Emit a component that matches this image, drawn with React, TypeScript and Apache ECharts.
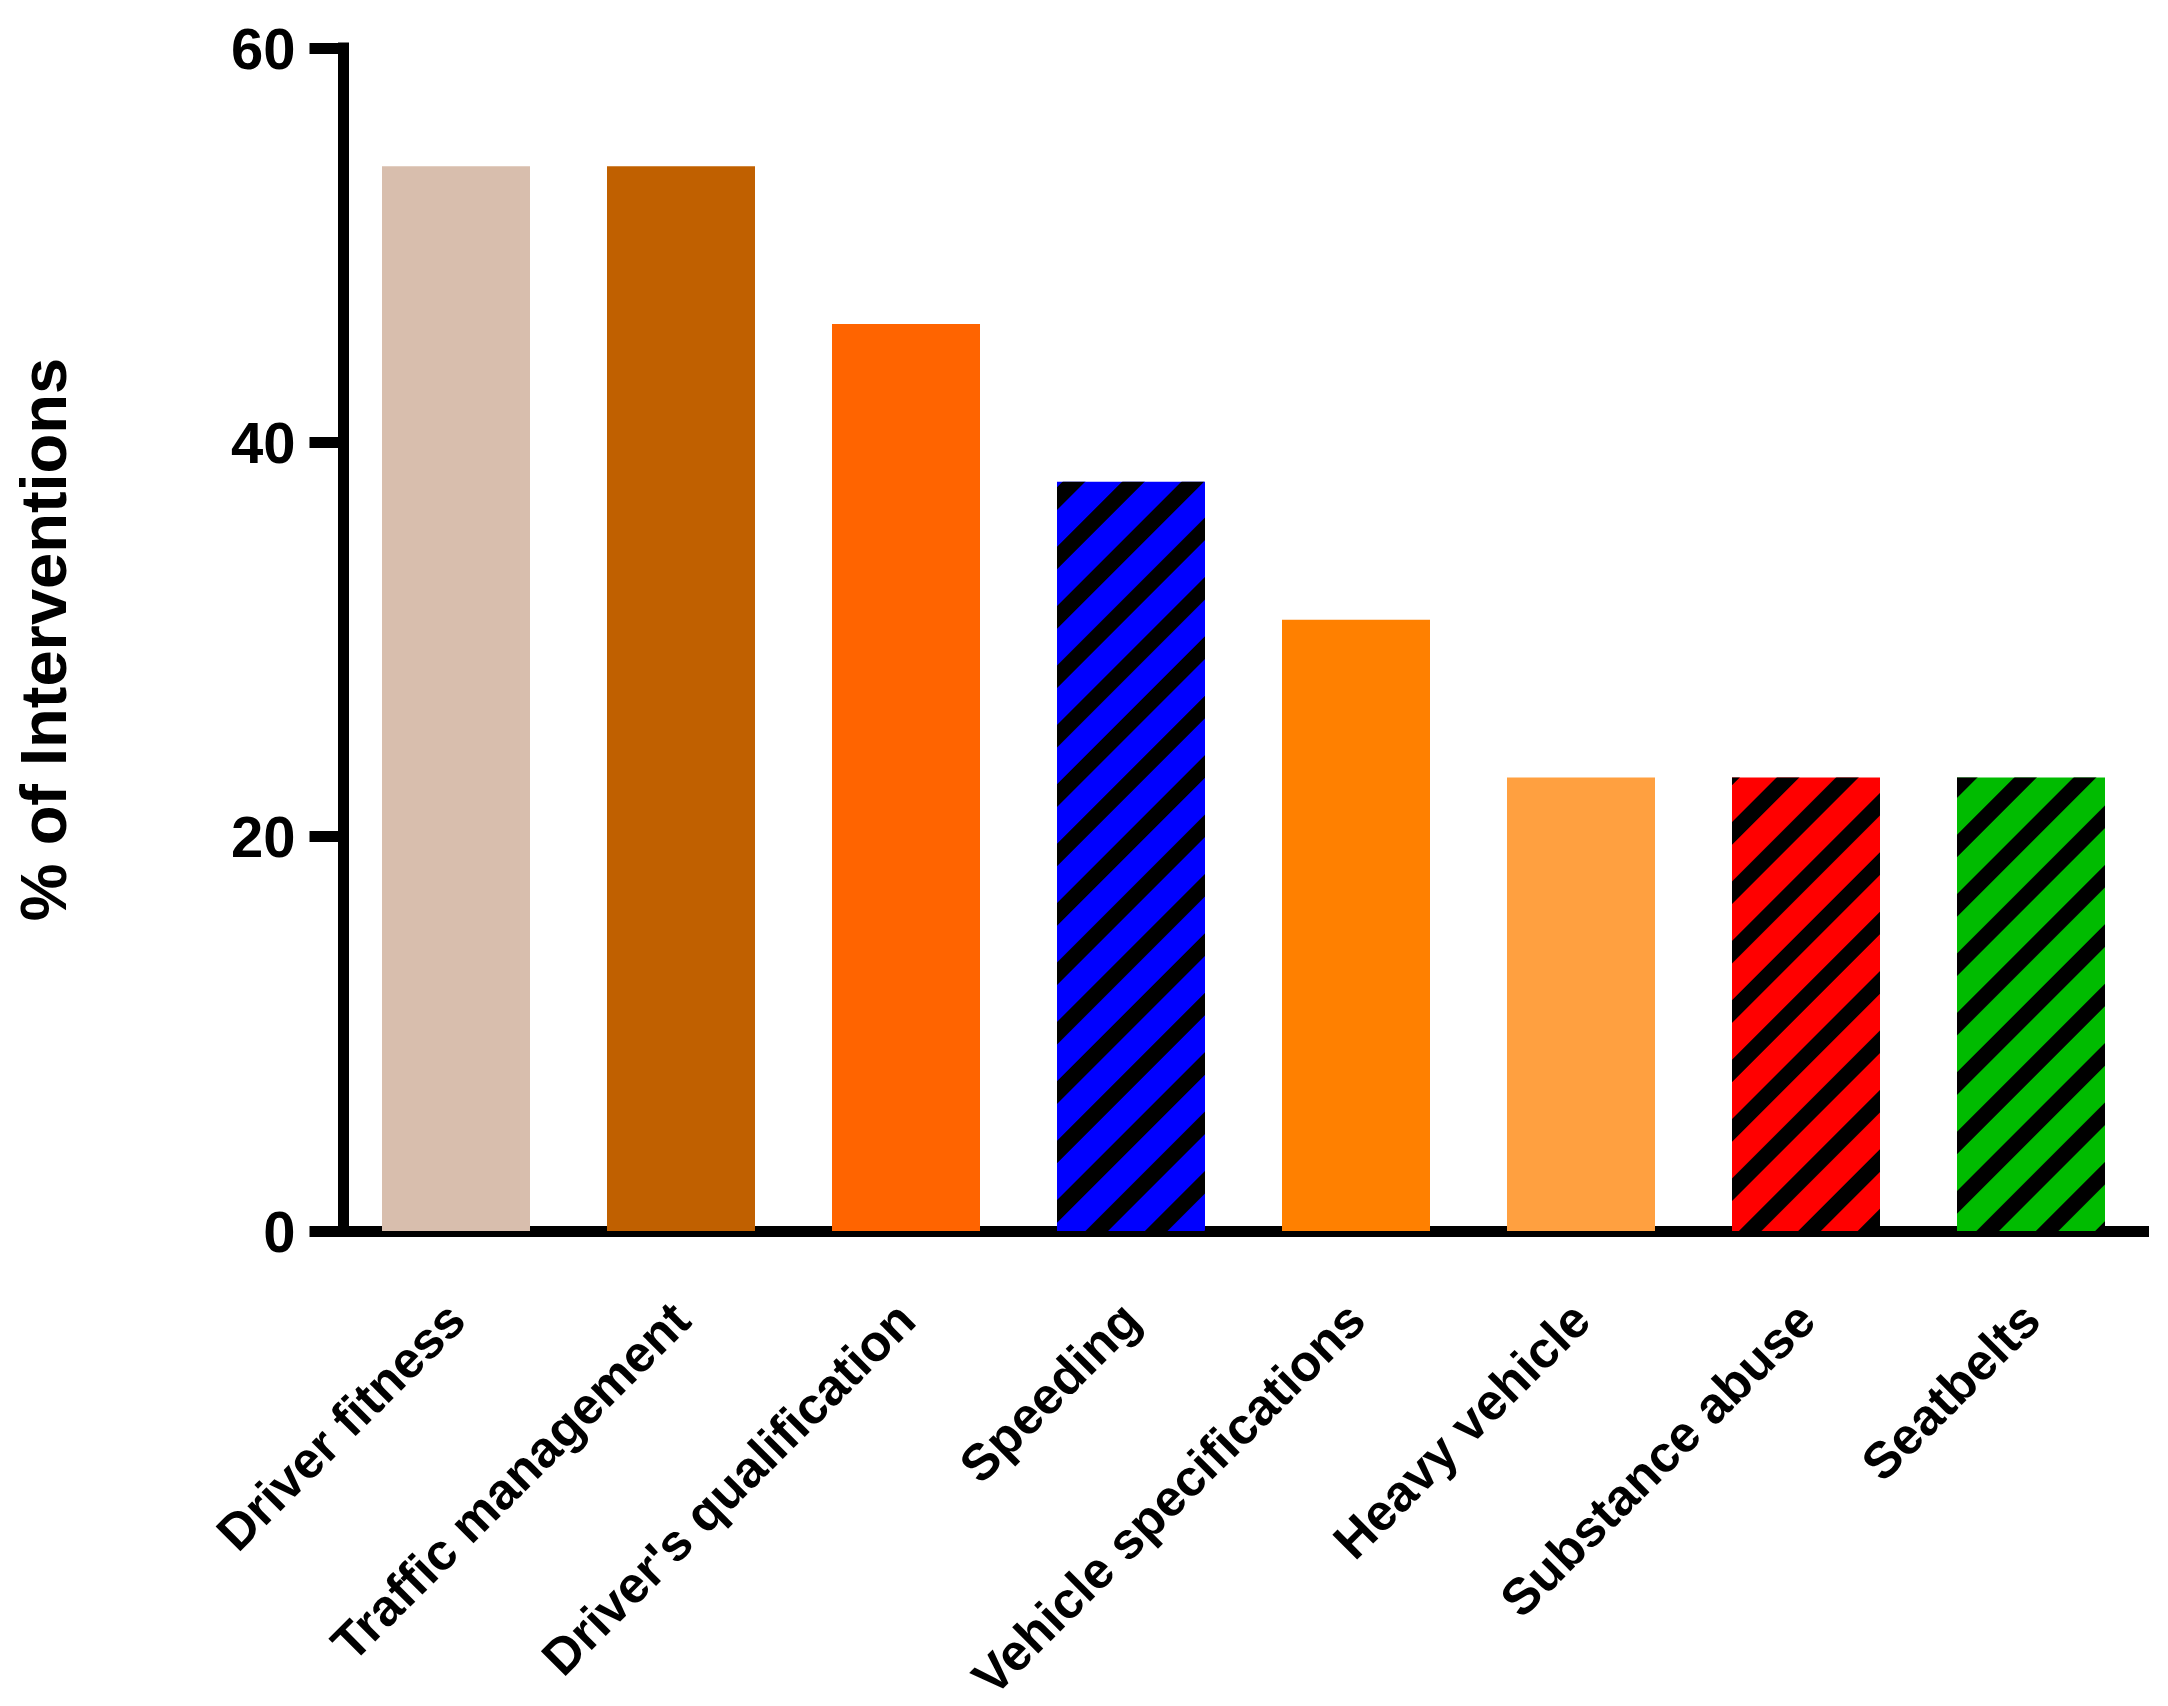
import React, { useEffect, useRef } from "react";
import * as echarts from "echarts";

const categories = [
  "Driver fitness",
  "Traffic management",
  "Driver's qualification",
  "Speeding",
  "Vehicle specifications",
  "Heavy vehicle",
  "Substance abuse",
  "Seatbelts",
];
const values = [54, 54, 46, 38, 31, 23, 23, 23];
const barColors = ["#D8BEAD", "#C06000", "#FF6400", "#0000FF", "#FF8000", "#FFA040", "#FF0000", "#00BB00"];
const hatched = [false, false, false, true, false, false, true, true];
const yTicks = [0, 20, 40, 60];
const yTitle = "% of Interventions";

const FONT = "'Liberation Sans', Arial, sans-serif";

export default function App() {
  const ref = useRef<HTMLDivElement>(null);
  useEffect(() => {
    if (!ref.current) return;
    const chart = echarts.init(ref.current, null, { renderer: "svg" });
    const stripe = {
      symbol: "rect",
      symbolSize: 1,
      dashArrayX: [1, 0],
      dashArrayY: [16, 26],
      rotation: -Math.PI / 4,
      color: "#000000",
    };
    chart.setOption({
      animation: false,
      backgroundColor: "#ffffff",
      grid: { left: 343.5, right: 24.5, top: 48, bottom: 458 },
      xAxis: {
        type: "category",
        data: categories,
        axisLine: { lineStyle: { color: "#000", width: 11, cap: "square" } },
        axisTick: { alignWithLabel: true, length: 34, lineStyle: { color: "#000", width: 11 } },
        axisLabel: {
          rotate: 45,
          margin: 80,
          interval: 0,
          color: "#000",
          fontSize: 51,
          fontWeight: "bold",
          fontFamily: FONT,
        },
      },
      yAxis: {
        type: "value",
        min: yTicks[0],
        max: yTicks[yTicks.length - 1],
        interval: yTicks[1] - yTicks[0],
        name: yTitle,
        nameLocation: "middle",
        nameGap: 268,
        nameTextStyle: { color: "#000", fontSize: 65, fontWeight: "bold", fontFamily: FONT },
        axisLine: { show: true, lineStyle: { color: "#000", width: 11, cap: "square" } },
        axisTick: { show: true, length: 34, lineStyle: { color: "#000", width: 11 } },
        splitLine: { show: false },
        axisLabel: { margin: 48, color: "#000", fontSize: 58, fontWeight: "bold", fontFamily: FONT },
      },
      series: [
        {
          type: "bar",
          barWidth: 148,
          data: values.map((v, i) => ({
            value: v,
            itemStyle: hatched[i]
              ? { color: barColors[i], decal: stripe }
              : { color: barColors[i] },
          })),
        },
      ],
    });
    return () => chart.dispose();
  }, []);
  return (
    <div
      ref={ref}
      style={{ position: "fixed", left: 0, top: 0, width: 2168, height: 1706, background: "#fff" }}
    />
  );
}
